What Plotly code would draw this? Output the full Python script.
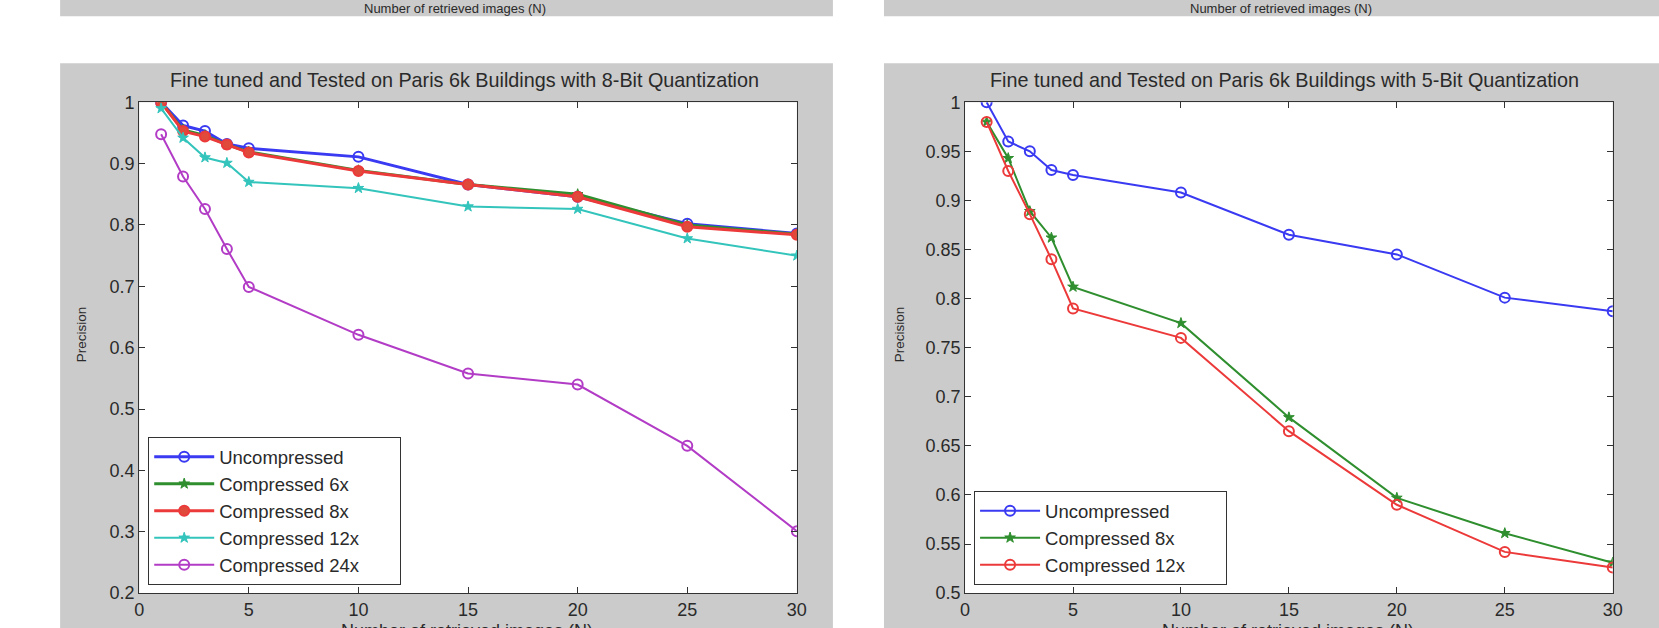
import plotly.graph_objects as go

# Measured mapping of the capture: final = S * (figure + M)
SX, SY = 0.99, 0.969
MX, MY = 6.0, 9.0
W, H = 1672, 640

# ---------------- data ----------------
n_retrieved = [1, 2, 3, 4, 5, 10, 15, 20, 25, 30]

# Left panel: 8-bit quantization
uncompressed_8bit = [1.000, 0.962, 0.953, 0.932, 0.925, 0.911, 0.866, 0.846, 0.802, 0.786]
compressed6x_8bit = [1.000, 0.955, 0.946, 0.931, 0.919, 0.889, 0.866, 0.850, 0.800, 0.785]
compressed8x_8bit = [1.000, 0.953, 0.944, 0.931, 0.918, 0.888, 0.866, 0.846, 0.797, 0.784]
compressed12x_8bit = [0.990, 0.942, 0.910, 0.901, 0.870, 0.860, 0.830, 0.826, 0.778, 0.750]
compressed24x_8bit = [0.948, 0.879, 0.826, 0.761, 0.699, 0.621, 0.558, 0.540, 0.440, 0.301]

# Right panel: 5-bit quantization
uncompressed_5bit = [1.000, 0.960, 0.950, 0.931, 0.926, 0.908, 0.865, 0.845, 0.801, 0.787]
compressed8x_5bit = [0.980, 0.943, 0.889, 0.862, 0.812, 0.775, 0.679, 0.597, 0.561, 0.531]
compressed12x_5bit = [0.980, 0.930, 0.886, 0.840, 0.790, 0.760, 0.665, 0.590, 0.542, 0.526]

left_title = "Fine tuned and Tested on Paris 6k Buildings with 8-Bit Quantization"
right_title = "Fine tuned and Tested on Paris 6k Buildings with 5-Bit Quantization"
x_label = "Number of retrieved images (N)"
y_label = "Precision"

# ---------------- style ----------------
FONT = "Liberation Sans, Arial, sans-serif"
TXT = "#2a2a2a"
GRAY = "#cbcbcb"
BLUE, GREEN, RED, CYAN, MAGENTA = "#3a3af2", "#2f8f2f", "#ec3a3a", "#33c4bc", "#b23cc6"
PAD = "\u00a0" * 7  # right padding inside the legend box


def px(x):
    return (x / SX - MX) / W


def py(y):
    return 1 - (y / SY - MY) / H


L_DOM = [px(140), px(797)]
R_DOM = [px(965), px(1612)]
Y_DOM = [py(592), py(101)]

fig = go.Figure()


def add(xs, ys, name, color, symbol, width, msize, xa, ya, legend, fill=None):
    mk = dict(symbol=symbol, size=msize, color=fill if fill else color,
              line=dict(color=color, width=2 if "open" in symbol or fill else 1))
    fig.add_trace(go.Scatter(x=xs, y=ys, name=name + PAD, mode="lines+markers",
                             line=dict(color=color, width=width), marker=mk,
                             xaxis=xa, yaxis=ya, legend=legend))


add(n_retrieved, uncompressed_8bit, "Uncompressed", BLUE, "circle-open", 3, 10, "x", "y", "legend")
add(n_retrieved, compressed6x_8bit, "Compressed 6x", GREEN, "star", 3, 8, "x", "y", "legend")
add(n_retrieved, compressed8x_8bit, "Compressed 8x", RED, "circle", 3, 10, "x", "y", "legend", fill="#e04a3a")
add(n_retrieved, compressed12x_8bit, "Compressed 12x", CYAN, "star", 2, 8, "x", "y", "legend")
add(n_retrieved, compressed24x_8bit, "Compressed 24x", MAGENTA, "circle-open", 2, 10, "x", "y", "legend")

add(n_retrieved, uncompressed_5bit, "Uncompressed", BLUE, "circle-open", 2, 10, "x2", "y2", "legend2")
add(n_retrieved, compressed8x_5bit, "Compressed 8x", GREEN, "star", 2, 8, "x2", "y2", "legend2")
add(n_retrieved, compressed12x_5bit, "Compressed 12x", RED, "circle-open", 2, 10, "x2", "y2", "legend2")

axis_common = dict(showline=True, linecolor="#333333", linewidth=1, mirror="ticks",
                   ticks="inside", ticklen=6, tickcolor="#333333", showgrid=False,
                   zeroline=False, tickfont=dict(family=FONT, size=18, color=TXT))

fig.update_layout(
    xaxis=dict(domain=L_DOM, range=[0, 30], tickvals=[0, 5, 10, 15, 20, 25, 30],
               anchor="y", **axis_common),
    yaxis=dict(domain=Y_DOM, range=[0.2, 1], dtick=0.1, tick0=0.2, anchor="x", **axis_common),
    xaxis2=dict(domain=R_DOM, range=[0, 30], tickvals=[0, 5, 10, 15, 20, 25, 30],
                anchor="y2", **axis_common),
    yaxis2=dict(domain=Y_DOM, range=[0.5, 1], dtick=0.05, tick0=0.5, anchor="x2", **axis_common),
)

legend_common = dict(bgcolor="white", bordercolor="#333333", borderwidth=1,
                     font=dict(family=FONT, size=18.5, color=TXT), itemwidth=60,
                     xanchor="left", yanchor="bottom", tracegroupgap=0)
fig.update_layout(
    legend=dict(x=px(149), y=py(584), **legend_common),
    legend2=dict(x=px(974), y=py(584), **legend_common),
)


def rect(x0, x1, y0, y1, color):
    return dict(type="rect", xref="paper", yref="paper", x0=x0, x1=x1, y0=y0, y1=y1,
                fillcolor=color, line=dict(width=0), layer="below")


shapes = [
    # gray figure panels
    rect(px(61), px(833), -0.05, py(62), GRAY),
    rect(px(884), 1.05, -0.05, py(62), GRAY),
    # top strips (bottom of the figures above)
    rect(px(61), px(833), py(15), 1.05, GRAY),
    rect(px(884), 1.05, py(15), 1.05, GRAY),
    # white plot areas
    rect(L_DOM[0], L_DOM[1], Y_DOM[0], Y_DOM[1], "white"),
    rect(R_DOM[0], R_DOM[1], Y_DOM[0], Y_DOM[1], "white"),
]


def ann(text, x, y, size, angle=0):
    return dict(text=text, x=px(x), y=py(y), xref="paper", yref="paper", showarrow=False,
                xanchor="center", yanchor="middle", textangle=angle,
                font=dict(family=FONT, size=size, color=TXT))


annotations = [
    ann(left_title, 465, 79, 19.8),
    ann(right_title, 1284, 79, 19.8),
    ann(y_label, 82, 333, 13.5, -90),
    ann(y_label, 899, 333, 13.5, -90),
    ann(x_label, 467, 630, 18),
    ann(x_label, 1288, 630, 18),
    ann(x_label, 455, 7.5, 13),
    ann(x_label, 1281, 7.5, 13),
]

fig.update_layout(
    width=W, height=H, margin=dict(l=0, r=0, t=0, b=0),
    paper_bgcolor="white", plot_bgcolor="rgba(0,0,0,0)",
    showlegend=True, shapes=shapes, annotations=annotations,
)

fig.write_html("out.html")
